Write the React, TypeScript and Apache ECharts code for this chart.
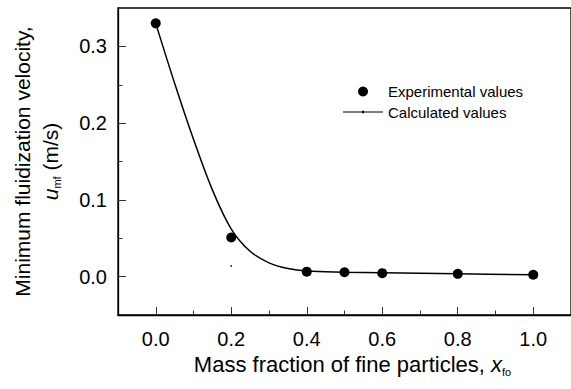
import React, { useEffect, useRef } from "react";
import * as echarts from "echarts";

const expX = [0, 0.2, 0.4, 0.5, 0.6, 0.8, 1.0];
const expY = [0.33, 0.051, 0.0065, 0.0057, 0.0045, 0.0036, 0.0024];

const calcX = [0, 0.05, 0.1, 0.15, 0.2, 0.25, 0.3, 0.35, 0.4, 0.5, 0.6, 0.8, 1.0];
const calcY = [0.33, 0.252, 0.179, 0.113, 0.062, 0.033, 0.018, 0.0105, 0.0072, 0.0058, 0.005, 0.0037, 0.0025];

const strayX = [0.2];
const strayY = [0.014];

const xMajor = [0, 0.2, 0.4, 0.6, 0.8, 1.0];
const xMinor = [0.1, 0.3, 0.5, 0.7, 0.9];
const yMajor = [0, 0.1, 0.2, 0.3];
const yMinor = [0.05, 0.15, 0.25];

const FONT = "'Liberation Sans', Arial, sans-serif";

export default function App() {
  const ref = useRef<HTMLDivElement>(null);
  useEffect(() => {
    if (!ref.current) return;
    const chart = echarts.init(ref.current, null, { renderer: "svg" });
    const toPairs = (xs: number[], ys: number[]) => xs.map((x, i) => [x, ys[i]]);
    const lineIcon = "path://M0,4.4 L40,4.4 L40,5.6 L0,5.6 Z M19,3.8 L21,3.8 L21,6.2 L19,6.2 Z";
    chart.setOption({
      animation: false,
      textStyle: { fontFamily: FONT, color: "#000" },
      grid: {
        left: 113,
        top: 8,
        right: -3.5,
        bottom: 74,
        show: true,
        borderColor: "#000",
        borderWidth: 1.3,
        backgroundColor: "transparent",
      },
      legend: {
        orient: "vertical",
        left: 338,
        top: 79,
        itemWidth: 40,
        itemHeight: 10,
        itemGap: 5.5,
        textStyle: { fontSize: 15, color: "#000", fontFamily: FONT },
        data: [
          { name: "Experimental values", icon: "circle", itemStyle: { color: "#000", opacity: 1 } },
          { name: "Calculated values", icon: lineIcon, itemStyle: { color: "#000", opacity: 1 } },
        ],
      },
      xAxis: [
        {
          type: "value",
          min: -0.1,
          max: 1.1,
          position: "bottom",
          splitLine: { show: false },
          axisLine: { show: true, onZero: false, lineStyle: { color: "#000", width: 1.3 } },
          axisTick: {
            show: true,
            inside: true,
            length: 8,
            customValues: xMajor,
            lineStyle: { color: "#333", width: 1 },
          },
          axisLabel: {
            customValues: xMajor,
            fontSize: 20,
            color: "#000",
            margin: 14,
            fontFamily: FONT,
            formatter: (v: number) => v.toFixed(1),
          },
          name: "Mass fraction of fine particles, {i|x}{sub|fo}",
          nameLocation: "middle",
          nameGap: 36,
          nameTextStyle: {
            fontSize: 22,
            color: "#000",
            fontFamily: FONT,
            padding: [0, 0, 0, 16],
            rich: {
              i: { fontSize: 22, fontStyle: "italic", fontFamily: FONT, color: "#000" },
              sub: { fontSize: 11, fontFamily: FONT, color: "#000", padding: [14, 0, 0, 0] },
            },
          },
        },
        {
          type: "value",
          min: -0.1,
          max: 1.1,
          position: "bottom",
          splitLine: { show: false },
          axisLine: { show: false, onZero: false },
          axisLabel: { show: false },
          axisTick: {
            show: true,
            inside: true,
            length: 4.5,
            customValues: xMinor,
            lineStyle: { color: "#333", width: 1 },
          },
        },
      ],
      yAxis: [
        {
          type: "value",
          min: -0.05,
          max: 0.35,
          position: "left",
          splitLine: { show: false },
          axisLine: { show: true, onZero: false, lineStyle: { color: "#000", width: 1.3 } },
          axisTick: {
            show: true,
            inside: true,
            length: 8,
            customValues: yMajor,
            lineStyle: { color: "#333", width: 1 },
          },
          axisLabel: {
            customValues: yMajor,
            fontSize: 20,
            color: "#000",
            margin: 11,
            fontFamily: FONT,
            formatter: (v: number) => v.toFixed(1),
          },
          name: "Minimum fluidization velocity,\n{i|u}{sub|mf} (m/s)",
          nameLocation: "middle",
          nameGap: 54,
          nameRotate: 90,
          nameTextStyle: {
            fontSize: 21,
            color: "#000",
            fontFamily: FONT,
            lineHeight: 28,
            rich: {
              i: { fontSize: 21, fontStyle: "italic", fontFamily: FONT, color: "#000", lineHeight: 28 },
              sub: { fontSize: 11, fontFamily: FONT, color: "#000", padding: [14, 0, 0, 0], lineHeight: 28 },
            },
          },
        },
        {
          type: "value",
          min: -0.05,
          max: 0.35,
          position: "left",
          splitLine: { show: false },
          axisLine: { show: false, onZero: false },
          axisLabel: { show: false },
          axisTick: {
            show: true,
            inside: true,
            length: 4.5,
            customValues: yMinor,
            lineStyle: { color: "#333", width: 1 },
          },
        },
      ],
      series: [
        {
          name: "Calculated values",
          type: "line",
          smooth: 0.35,
          showSymbol: false,
          symbol: "none",
          data: toPairs(calcX, calcY),
          lineStyle: { color: "#000", width: 1.5 },
          itemStyle: { color: "#000" },
          z: 2,
        },
        {
          name: "Experimental values",
          type: "scatter",
          symbol: "circle",
          symbolSize: 10,
          data: toPairs(expX, expY),
          itemStyle: { color: "#000", opacity: 1 },
          z: 3,
        },
        {
          name: "stray",
          type: "scatter",
          symbol: "rect",
          symbolSize: 1.5,
          data: toPairs(strayX, strayY),
          itemStyle: { color: "#000", opacity: 1 },
          z: 3,
        },
      ],
    });
    return () => chart.dispose();
  }, []);
  return <div ref={ref} style={{ width: 571, height: 389, position: "absolute", left: 0, top: 0 }} />;
}
